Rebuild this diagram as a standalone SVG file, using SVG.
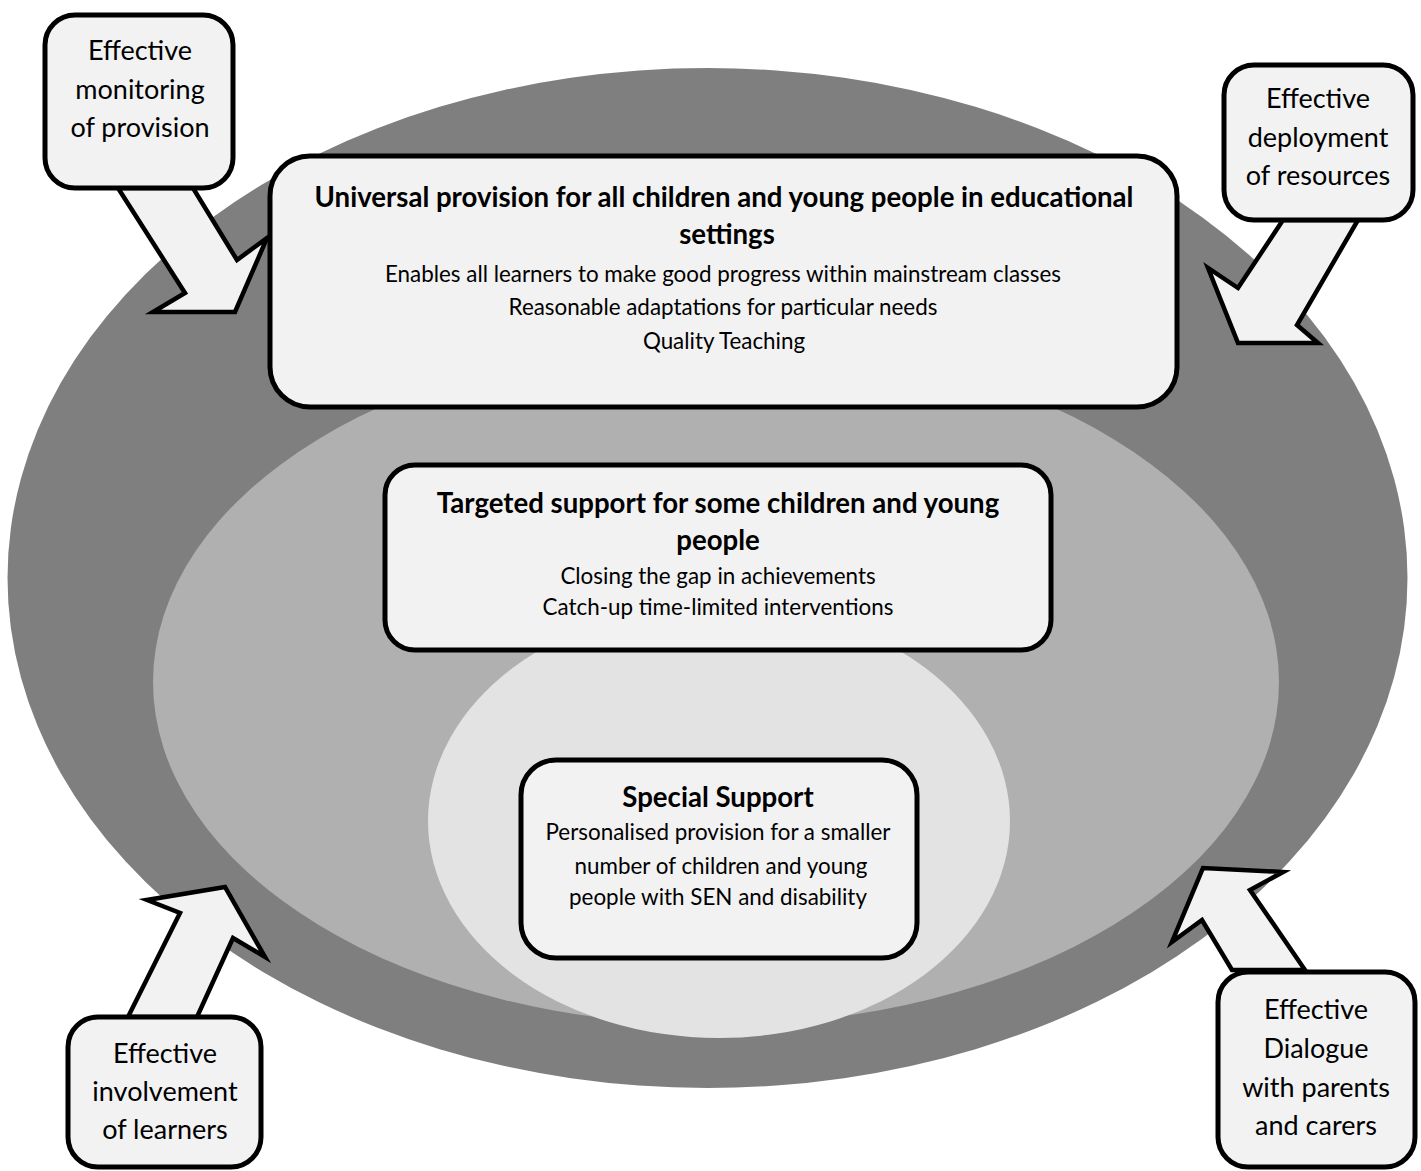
<svg xmlns="http://www.w3.org/2000/svg" width="1421" height="1171" viewBox="0 0 1421 1171">
<style>
.box{fill:#f2f2f2;stroke:#000;stroke-width:5}
.arrow{fill:#f2f2f2;stroke:#000;stroke-width:4.5;stroke-linejoin:miter}
text{font-family:Lato,"Open Sans","Liberation Sans",sans-serif;fill:#000;text-anchor:middle}
.t{font-weight:bold;font-size:27.6px}
.b{font-size:22.4px}
.s{font-size:27px}
</style>
<rect width="1421" height="1171" fill="#fff"/>
<g id="rings">
<ellipse cx="707.5" cy="578" rx="700" ry="510" fill="#7f7f7f"/>
<ellipse cx="716" cy="682" rx="563" ry="343" fill="#b0b0b0"/>
<ellipse cx="719" cy="821" rx="291" ry="217" fill="#e3e3e3"/>
</g>
<g id="connectors">
<polygon class="arrow" points="118,188 185,293 153,312 235,312 267,238 237,260 193,188"/>
<polygon class="arrow" points="1283,220 1238,288 1208,268 1238,343 1318,343 1297,325 1358,220"/>
<polygon class="arrow" points="128,1017 180,913 147,900 225,887 265,957 233,938 197,1017"/>
<polygon class="arrow" points="1305,970 1250,890 1283,872 1203,868 1172,942 1202,920 1232,970"/>
</g>
<g id="universal">
<rect class="box" x="270" y="156" width="907" height="251" rx="40"/>
<text class="t" x="724" y="207">Universal provision for all children and young people in educational</text>
<text class="t" x="727" y="244">settings</text>
<text class="b" x="723" y="282">Enables all learners to make good progress within mainstream classes</text>
<text class="b" x="723" y="315">Reasonable adaptations for particular needs</text>
<text class="b" x="724" y="349">Quality Teaching</text>
</g>
<g id="targeted">
<rect class="box" x="385" y="465" width="666" height="185" rx="30"/>
<text class="t" x="718" y="513">Targeted support for some children and young</text>
<text class="t" x="718" y="550">people</text>
<text class="b" x="718" y="584">Closing the gap in achievements</text>
<text class="b" x="718" y="615">Catch-up time-limited interventions</text>
</g>
<g id="special">
<rect class="box" x="521" y="760" width="396" height="198" rx="35"/>
<text class="t" x="718" y="807">Special Support</text>
<text class="b" x="718" y="840">Personalised provision for a smaller</text>
<text class="b" x="721" y="874">number of children and young</text>
<text class="b" x="718" y="905">people with SEN and disability</text>
</g>
<g id="monitoring">
<rect class="box" x="45" y="15" width="188" height="173" rx="30"/>
<text class="s" x="140" y="60">Effective</text>
<text class="s" x="140" y="99">monitoring</text>
<text class="s" x="140" y="137">of provision</text>
</g>
<g id="deployment">
<rect class="box" x="1224" y="65" width="189" height="155" rx="30"/>
<text class="s" x="1318" y="108">Effective</text>
<text class="s" x="1318" y="147">deployment</text>
<text class="s" x="1318" y="185">of resources</text>
</g>
<g id="involvement">
<rect class="box" x="68" y="1017" width="193" height="150" rx="30"/>
<text class="s" x="165" y="1063">Effective</text>
<text class="s" x="165" y="1101">involvement</text>
<text class="s" x="165" y="1139">of learners</text>
</g>
<g id="dialogue">
<rect class="box" x="1218" y="972" width="197" height="195" rx="30"/>
<text class="s" x="1316" y="1019">Effective</text>
<text class="s" x="1316" y="1058">Dialogue</text>
<text class="s" x="1316" y="1097">with parents</text>
<text class="s" x="1316" y="1135">and carers</text>
</g>
</svg>
